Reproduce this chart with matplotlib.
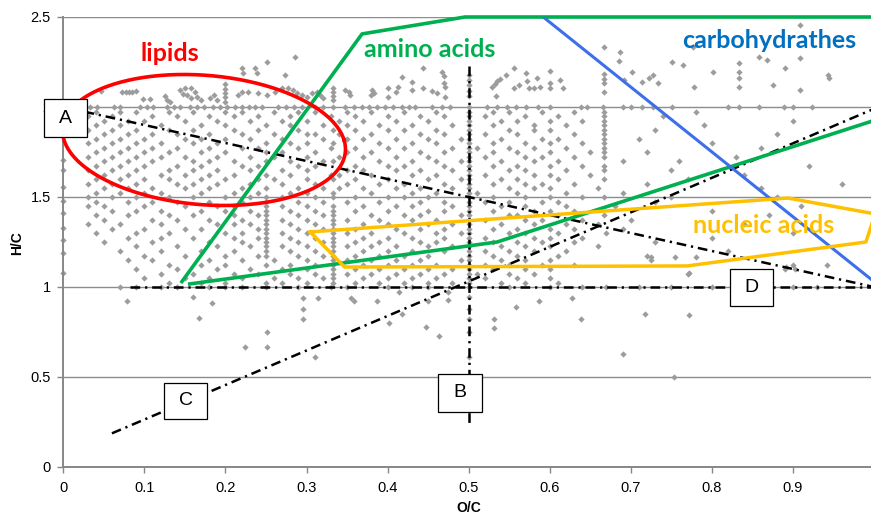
import matplotlib
matplotlib.use('Agg')
import matplotlib.pyplot as plt
from matplotlib.patches import Rectangle
import numpy as np

plt.rcParams['font.family'] = ['Liberation Sans', 'DejaVu Sans']
plt.rcParams['lines.scale_dashes'] = False

# ---------------- scatter data (O/C, H/C) ----------------
# sparse points above H/C = 2
top_oc = [0.047, 0.073, 0.077, 0.081, 0.085, 0.090, 0.098, 0.107, 0.126, 0.128, 0.132,
          0.144, 0.150, 0.158, 0.148, 0.153, 0.162, 0.158, 0.165, 0.170, 0.181, 0.186, 0.190,
          0.200, 0.200, 0.200, 0.200, 0.200, 0.221, 0.222, 0.236, 0.239, 0.251, 0.273, 0.286,
          0.216, 0.221, 0.228, 0.240, 0.251, 0.261, 0.270, 0.277, 0.283, 0.288, 0.294, 0.300,
          0.307, 0.313, 0.317, 0.320, 0.333, 0.333, 0.333, 0.333, 0.348, 0.352, 0.354, 0.381,
          0.383, 0.379, 0.400, 0.410, 0.413, 0.401, 0.418, 0.430, 0.430, 0.444, 0.444, 0.455,
          0.461, 0.467, 0.470, 0.469, 0.471, 0.471, 0.500, 0.500, 0.500, 0.500, 0.500, 0.529,
          0.533, 0.535, 0.539, 0.546, 0.534, 0.556, 0.556, 0.562, 0.571, 0.572, 0.574, 0.580,
          0.584, 0.588, 0.600, 0.600, 0.600, 0.613, 0.616, 0.667, 0.687, 0.685, 0.667, 0.667,
          0.667, 0.667, 0.701, 0.692, 0.714, 0.722, 0.727, 0.734, 0.751, 0.764, 0.778, 0.777,
          0.802, 0.834, 0.834, 0.834, 0.834, 0.858, 0.868, 0.876, 0.890, 0.909, 0.909, 0.909,
          0.943, 0.945]
top_hc = [2.089, 2.082, 2.083, 2.084, 2.085, 2.087, 2.044, 2.044, 2.060, 2.040, 2.030,
          2.094, 2.106, 2.106, 2.072, 2.067, 2.083, 2.050, 2.056, 2.040, 2.050, 2.067, 2.040,
          2.130, 2.100, 2.080, 2.055, 2.030, 2.217, 2.190, 2.217, 2.190, 2.250, 2.180, 2.280,
          2.067, 2.083, 2.083, 2.078, 2.067, 2.083, 2.106, 2.106, 2.094, 2.078, 2.067, 2.056,
          2.078, 2.083, 2.067, 2.050, 2.106, 2.083, 2.060, 2.040, 2.094, 2.083, 2.067, 2.094,
          2.078, 2.067, 2.106, 2.083, 2.111, 2.056, 2.167, 2.140, 2.094, 2.217, 2.106, 2.089,
          2.078, 2.194, 2.172, 2.133, 2.111, 2.056, 2.180, 2.150, 2.120, 2.090, 2.060, 2.111,
          2.128, 2.144, 2.156, 2.178, 2.061, 2.217, 2.106, 2.122, 2.190, 2.144, 2.106, 2.106,
          2.161, 2.111, 2.200, 2.133, 2.106, 2.150, 2.106, 2.333, 2.306, 2.256, 2.183, 2.156,
          2.133, 2.083, 2.194, 2.150, 2.139, 2.161, 2.178, 2.133, 2.250, 2.233, 2.111, 2.333,
          2.194, 2.244, 2.194, 2.161, 2.111, 2.278, 2.261, 2.122, 2.217, 2.456, 2.272, 2.094,
          2.178, 2.161]

# points on H/C rows
rows_hc = [2.0, 1.975, 1.95, 1.925, 1.9, 1.875, 1.85, 1.825, 1.8, 1.775, 1.75, 1.725, 1.7,
           1.675, 1.65, 1.625, 1.6, 1.575, 1.55, 1.525, 1.5, 1.475, 1.45, 1.425, 1.4, 1.375,
           1.35, 1.325, 1.3, 1.275, 1.25, 1.225, 1.2, 1.175, 1.15, 1.125, 1.1, 1.075, 1.05,
           1.025, 1.0]
rows_oc = [
    [0.033, 0.041, 0.062, 0.070, 0.095, 0.103, 0.111,
     0.128, 0.136, 0.144, 0.156, 0.165, 0.173, 0.185,
     0.193, 0.202, 0.212, 0.221, 0.229, 0.237,
     0.245, 0.265, 0.275, 0.285, 0.295, 0.310, 0.320,
     0.333, 0.348, 0.358, 0.368, 0.377, 0.387, 0.397,
     0.407, 0.418, 0.426, 0.434, 0.455, 0.467,
     0.477, 0.500, 0.523, 0.535, 0.547, 0.559, 0.571,
     0.585, 0.600, 0.638, 0.646, 0.666, 0.690, 0.700, 0.714, 0.727, 0.751, 0.820, 0.834,
     0.858, 0.889, 0.900, 0.924],
    [0.04, 0.07, 0.09, 0.13, 0.16, 0.2, 0.22, 0.26, 0.29, 0.31, 0.35, 0.38, 0.42, 0.46, 0.5, 0.53, 0.55, 0.59, 0.63, 0.667, 0.78],
    [0.03, 0.06, 0.11, 0.14, 0.18, 0.21, 0.24, 0.28, 0.33, 0.36, 0.4, 0.44, 0.47, 0.5, 0.52, 0.57, 0.61, 0.667, 0.74],
    [0.05, 0.08, 0.1, 0.15, 0.19, 0.23, 0.27, 0.3, 0.34, 0.37, 0.41, 0.45, 0.5, 0.54, 0.56, 0.6, 0.64, 0.667, 0.9],
    [0.04, 0.07, 0.12, 0.17, 0.2, 0.25, 0.28, 0.32, 0.35, 0.39, 0.43, 0.48, 0.5, 0.53, 0.58, 0.62, 0.667, 0.79],
    [0.03, 0.06, 0.09, 0.13, 0.16, 0.21, 0.24, 0.29, 0.333, 0.36, 0.4, 0.42, 0.46, 0.5, 0.55, 0.58, 0.6, 0.667, 0.73],
    [0.05, 0.08, 0.11, 0.14, 0.18, 0.22, 0.26, 0.3, 0.31, 0.34, 0.38, 0.44, 0.47, 0.5, 0.52, 0.56, 0.63, 0.667, 0.88],
    [0.04, 0.07, 0.1, 0.15, 0.17, 0.2, 0.23, 0.27, 0.32, 0.35, 0.37, 0.41, 0.45, 0.49, 0.5, 0.54, 0.59, 0.61, 0.667, 0.71],
    [0.03, 0.06, 0.09, 0.12, 0.16, 0.19, 0.25, 0.28, 0.3, 0.333, 0.39, 0.43, 0.46, 0.5, 0.53, 0.57, 0.6, 0.64, 0.667, 0.8],
    [0.05, 0.08, 0.11, 0.14, 0.18, 0.22, 0.24, 0.29, 0.33, 0.36, 0.4, 0.42, 0.48, 0.5, 0.51, 0.55, 0.58, 0.62, 0.667, 0.86],
    [0.04, 0.07, 0.1, 0.13, 0.17, 0.2, 0.25, 0.27, 0.31, 0.35, 0.38, 0.44, 0.47, 0.5, 0.53, 0.56, 0.6, 0.65, 0.667, 0.72],
    [0.03, 0.06, 0.09, 0.12, 0.15, 0.19, 0.23, 0.26, 0.3, 0.34, 0.37, 0.41, 0.45, 0.5, 0.52, 0.57, 0.59, 0.63, 0.667, 0.83],
    [0.05, 0.08, 0.11, 0.16, 0.18, 0.21, 0.25, 0.28, 0.32, 0.333, 0.39, 0.43, 0.46, 0.49, 0.5, 0.54, 0.58, 0.61, 0.69, 0.76],
    [0.04, 0.07, 0.1, 0.14, 0.17, 0.22, 0.24, 0.29, 0.31, 0.36, 0.4, 0.42, 0.47, 0.5, 0.53, 0.56, 0.6, 0.64, 0.667, 0.92],
    [0.03, 0.06, 0.09, 0.13, 0.16, 0.19, 0.23, 0.27, 0.3, 0.35, 0.37, 0.41, 0.44, 0.48, 0.5, 0.55, 0.57, 0.62, 0.667, 0.75],
    [0.05, 0.08, 0.12, 0.15, 0.18, 0.21, 0.25, 0.28, 0.33, 0.34, 0.38, 0.43, 0.46, 0.5, 0.52, 0.58, 0.6, 0.65, 0.84],
    [0.04, 0.07, 0.1, 0.13, 0.17, 0.2, 0.24, 0.26, 0.3, 0.333, 0.36, 0.4, 0.45, 0.49, 0.5, 0.54, 0.56, 0.61, 0.667, 0.77],
    [0.03, 0.06, 0.09, 0.14, 0.16, 0.19, 0.23, 0.27, 0.31, 0.35, 0.39, 0.42, 0.47, 0.5, 0.53, 0.57, 0.59, 0.63, 0.72, 0.96],
    [0.05, 0.08, 0.11, 0.15, 0.18, 0.22, 0.25, 0.29, 0.32, 0.34, 0.37, 0.41, 0.44, 0.48, 0.5, 0.55, 0.58, 0.6, 0.66, 0.86],
    [0.04, 0.07, 0.1, 0.12, 0.17, 0.21, 0.24, 0.28, 0.3, 0.333, 0.38, 0.43, 0.46, 0.5, 0.51, 0.56, 0.62, 0.69],
    [0.03, 0.06, 0.09, 0.13, 0.16, 0.2, 0.23, 0.25, 0.27, 0.31, 0.333, 0.36, 0.4, 0.42, 0.45, 0.5, 0.53, 0.57, 0.6, 0.64, 0.667, 0.75, 0.88],
    [0.04, 0.08, 0.11, 0.14, 0.18, 0.22, 0.25, 0.29, 0.32, 0.35, 0.39, 0.44, 0.47, 0.5, 0.52, 0.55, 0.59, 0.61, 0.73],
    [0.03, 0.05, 0.1, 0.15, 0.19, 0.21, 0.25, 0.27, 0.3, 0.333, 0.37, 0.41, 0.43, 0.48, 0.5, 0.54, 0.57, 0.62, 0.68, 0.91],
    [0.06, 0.09, 0.12, 0.17, 0.2, 0.23, 0.25, 0.28, 0.31, 0.333, 0.36, 0.4, 0.45, 0.47, 0.5, 0.53, 0.58, 0.6, 0.63, 0.8],
    [0.04, 0.08, 0.13, 0.16, 0.21, 0.24, 0.25, 0.29, 0.32, 0.333, 0.38, 0.42, 0.44, 0.49, 0.5, 0.55, 0.56, 0.61, 0.667, 0.87],
    [0.05, 0.11, 0.14, 0.18, 0.22, 0.25, 0.27, 0.3, 0.333, 0.35, 0.39, 0.43, 0.46, 0.5, 0.52, 0.57, 0.59, 0.64, 0.7],
    [0.03, 0.07, 0.12, 0.19, 0.21, 0.23, 0.25, 0.28, 0.31, 0.333, 0.37, 0.4, 0.45, 0.48, 0.5, 0.54, 0.58, 0.62, 0.66, 0.84],
    [0.06, 0.1, 0.15, 0.17, 0.24, 0.25, 0.29, 0.32, 0.333, 0.36, 0.41, 0.44, 0.47, 0.5, 0.53, 0.56, 0.6, 0.63, 0.69],
    [0.04, 0.09, 0.13, 0.2, 0.22, 0.25, 0.27, 0.3, 0.333, 0.35, 0.38, 0.42, 0.46, 0.49, 0.5, 0.55, 0.57, 0.61, 0.67, 0.9],
    [0.08, 0.12, 0.16, 0.21, 0.24, 0.25, 0.28, 0.31, 0.333, 0.37, 0.4, 0.43, 0.47, 0.5, 0.52, 0.58, 0.6, 0.64, 0.8],
    [0.05, 0.11, 0.18, 0.22, 0.25, 0.29, 0.32, 0.333, 0.36, 0.39, 0.44, 0.46, 0.5, 0.53, 0.56, 0.59, 0.63, 0.73],
    [0.09, 0.14, 0.19, 0.23, 0.25, 0.27, 0.3, 0.333, 0.35, 0.38, 0.41, 0.45, 0.48, 0.5, 0.54, 0.57, 0.6, 0.66],
    [0.07, 0.12, 0.17, 0.21, 0.25, 0.28, 0.31, 0.333, 0.37, 0.4, 0.43, 0.47, 0.5, 0.52, 0.55, 0.58, 0.62, 0.82],
    [0.1, 0.15, 0.2, 0.24, 0.25, 0.29, 0.32, 0.333, 0.36, 0.39, 0.42, 0.45, 0.5, 0.53, 0.56, 0.61, 0.72],
    [0.08, 0.11, 0.18, 0.22, 0.26, 0.3, 0.333, 0.35, 0.38, 0.41, 0.44, 0.49, 0.5, 0.54, 0.57, 0.6, 0.725],
    [0.13, 0.17, 0.2, 0.25, 0.28, 0.31, 0.333, 0.37, 0.4, 0.43, 0.46, 0.5, 0.52, 0.55, 0.59, 0.63, 0.9],
    [0.09, 0.14, 0.19, 0.23, 0.27, 0.3, 0.333, 0.36, 0.39, 0.42, 0.45, 0.48, 0.5, 0.53, 0.57, 0.6, 0.89],
    [0.12, 0.16, 0.21, 0.24, 0.28, 0.31, 0.333, 0.35, 0.38, 0.41, 0.44, 0.47, 0.5, 0.51, 0.55, 0.58, 0.77],
    [0.1, 0.15, 0.18, 0.22, 0.26, 0.29, 0.32, 0.333, 0.37, 0.4, 0.43, 0.46, 0.5, 0.52, 0.56, 0.6],
    [0.13, 0.17, 0.2, 0.25, 0.27, 0.3, 0.333, 0.36, 0.39, 0.42, 0.45, 0.48, 0.5, 0.54, 0.57, 0.61],
    [0.07, 0.09, 0.12, 0.14, 0.18, 0.2, 0.22, 0.25, 0.29, 0.33, 0.35, 0.4, 0.43, 0.45, 0.5,
     0.55, 0.6, 0.64, 0.67, 0.71, 0.75, 0.8, 0.86, 0.9, 0.93],
]

# points on the O/C = 0 edge and below H/C = 1
edge_oc = [0.0, 0.0, 0.0, 0.0, 0.0, 0.0, 0.0, 0.0, 0.0]
edge_hc = [1.706, 1.65, 1.556, 1.48, 1.41, 1.33, 1.26, 1.19, 1.08]
low_oc = [0.078, 0.16, 0.168, 0.183, 0.224, 0.251, 0.251, 0.296, 0.296, 0.296, 0.314, 0.31,
          0.355, 0.359, 0.387, 0.402, 0.414, 0.418, 0.447, 0.45, 0.464, 0.475, 0.475, 0.5,
          0.5, 0.5, 0.5, 0.5, 0.531, 0.531, 0.558, 0.587, 0.628, 0.639, 0.717, 0.772, 0.69,
          0.753, 0.725, 0.754, 0.781, 0.772, 0.892, 0.902, 0.942]
low_hc = [0.92, 0.945, 0.83, 0.91, 0.667, 0.75, 0.667, 0.94, 0.88, 0.82, 0.94, 0.61,
          0.94, 0.92, 0.92, 0.8, 0.97, 0.85, 0.78, 0.92, 0.73, 0.97, 0.93, 0.945,
          0.88, 0.82, 0.75, 0.61, 0.82, 0.77, 0.89, 0.92, 0.94, 0.82, 0.85, 0.845, 0.63,
          0.5, 1.167, 1.167, 1.167, 1.08, 1.11, 1.1, 1.12]

# ---------------- region outlines ----------------
amino_upper_oc = [0.145, 0.3685, 0.4956, 1.0]
amino_upper_hc = [1.022, 2.406, 2.5, 2.5]
amino_lower_oc = [0.156, 0.535, 1.0]
amino_lower_hc = [1.017, 1.25, 1.925]
carb_oc = [0.592, 1.0]
carb_hc = [2.5, 1.03]
nucleic_oc = [0.3045, 0.894, 1.0014, 0.99, 0.7695, 0.347, 0.3045]
nucleic_hc = [1.306, 1.494, 1.406, 1.25, 1.117, 1.111, 1.306]
# lipid ellipse (center, half axes, skew term)
lip_c = (0.1736, 1.8167)
lip_ax = (0.1727, 0.3639)
lip_skew = 0.0247

# reference lines A-D
line_A = ([0.0, 1.0], [2.0, 1.0])
line_B = ([0.5, 0.5], [2.23, 0.24])
line_C = ([0.06, 1.0], [0.187, 1.99])
line_D = ([0.082, 1.0], [1.0, 1.0])
boxes = [('A', -0.0238, 0.0292, 1.833, 2.044),
         ('B', 0.4622, 0.5165, 0.3056, 0.5167),
         ('C', 0.1242, 0.1773, 0.2667, 0.4667),
         ('D', 0.8225, 0.8756, 0.8944, 1.100)]

xticks = [0, 0.1, 0.2, 0.3, 0.4, 0.5, 0.6, 0.7, 0.8, 0.9]
xtick_labels = ['0', '0.1', '0.2', '0.3', '0.4', '0.5', '0.6', '0.7', '0.8', '0.9']
yticks = [0, 0.5, 1, 1.5, 2, 2.5]
ytick_labels = ['0', '0.5', '1', '1.5', '2', '2.5']

# ---------------- figure ----------------
W, H = 871, 514
fig = plt.figure(figsize=(W / 100, H / 100), dpi=100)
x0, x1 = 63.3, 874.0
y0, y1 = 467.0, 17.0
ax = fig.add_axes([x0 / W, (H - y0) / H, (x1 - x0) / W, (y0 - y1) / H])
ax.set_xlim(0, 1.0)
ax.set_ylim(0, 2.5)

gray = '#878787'
for s in ['top', 'right']:
    ax.spines[s].set_visible(False)
for s in ['left', 'bottom']:
    ax.spines[s].set_color(gray)
    ax.spines[s].set_linewidth(1.4)
ax.set_xticks(xticks)
ax.set_xticklabels(xtick_labels)
ax.set_yticks(yticks)
ax.set_yticklabels(ytick_labels)
ax.tick_params(axis='both', colors=gray, labelcolor='black', labelsize=10.5, length=4, width=1)
ax.tick_params(axis='x', pad=6)
ax.tick_params(axis='y', pad=5)
ax.yaxis.grid(True, color='#8c8c8c', lw=1.0)
ax.set_axisbelow(True)

# scatter
all_oc = list(top_oc) + list(edge_oc) + list(low_oc)
all_hc = list(top_hc) + list(edge_hc) + list(low_hc)
for hc, ocs in zip(rows_hc, rows_oc):
    all_oc += list(ocs)
    all_hc += [hc] * len(ocs)
ax.plot(all_oc, all_hc, ls='none', marker='D', ms=3.2, mew=0, color='#9c9c9c', zorder=2, clip_on=False)

# dash-dot reference lines
dd = (0, (7, 3.5, 1.6, 3.5))
for (lx, ly) in [line_A, line_B, line_C, line_D]:
    ax.plot(lx, ly, color='black', lw=1.8, ls=dd, zorder=4, clip_on=False)

# region outlines
ax.plot(amino_upper_oc, amino_upper_hc, color='#00B050', lw=2.6, zorder=5, clip_on=False, solid_capstyle='butt')
ax.plot(amino_lower_oc, amino_lower_hc, color='#00B050', lw=2.6, zorder=5, clip_on=True)
ax.plot(carb_oc, carb_hc, color='#3D6FE8', lw=2.2, zorder=5)
ax.plot(nucleic_oc, nucleic_hc, color='#FFC000', lw=2.5, zorder=5)
t = np.linspace(0, 2 * np.pi, 300)
ex = lip_c[0] + lip_ax[0] * np.cos(t) + lip_skew * np.sin(t)
ey = lip_c[1] - lip_ax[1] * np.sin(t)
ax.plot(ex, ey, color='#FF0000', lw=2.6, zorder=5, clip_on=False)

# labelled boxes
for lab, bx0, bx1, by0, by1 in boxes:
    ax.add_patch(Rectangle((bx0, by0), bx1 - bx0, by1 - by0, facecolor='white',
                           edgecolor='black', lw=0.9, zorder=8, clip_on=False))
    ax.text((bx0 + bx1) / 2, (by0 + by1) / 2, lab, ha='center', va='center',
            fontsize=14, zorder=9, clip_on=False)

# region names
lab_font = ['Lato', 'DejaVu Sans']
ax.text(0.132, 2.30, 'lipids', color='#FF0000', fontsize=18, fontweight='bold',
        family=lab_font, ha='center', va='center', zorder=7)
ax.text(0.452, 2.322, 'amino acids', color='#00B050', fontsize=18, fontweight='bold',
        family=lab_font, ha='center', va='center', zorder=7)
ax.text(0.871, 2.367, 'carbohydrathes', color='#0070C0', fontsize=18, fontweight='bold',
        family=lab_font, ha='center', va='center', zorder=7)
ax.text(0.864, 1.344, 'nucleic acids', color='#FFC000', fontsize=18, fontweight='bold',
        family=lab_font, ha='center', va='center', zorder=7)

# axis titles
fig.text(469 / W, 1 - 508 / H, 'O/C', ha='center', va='center', fontsize=10, fontweight='bold')
fig.text(17 / W, 1 - 243 / H, 'H/C', ha='center', va='center', fontsize=10, fontweight='bold', rotation=90)

fig.savefig('out.png', dpi=100)
